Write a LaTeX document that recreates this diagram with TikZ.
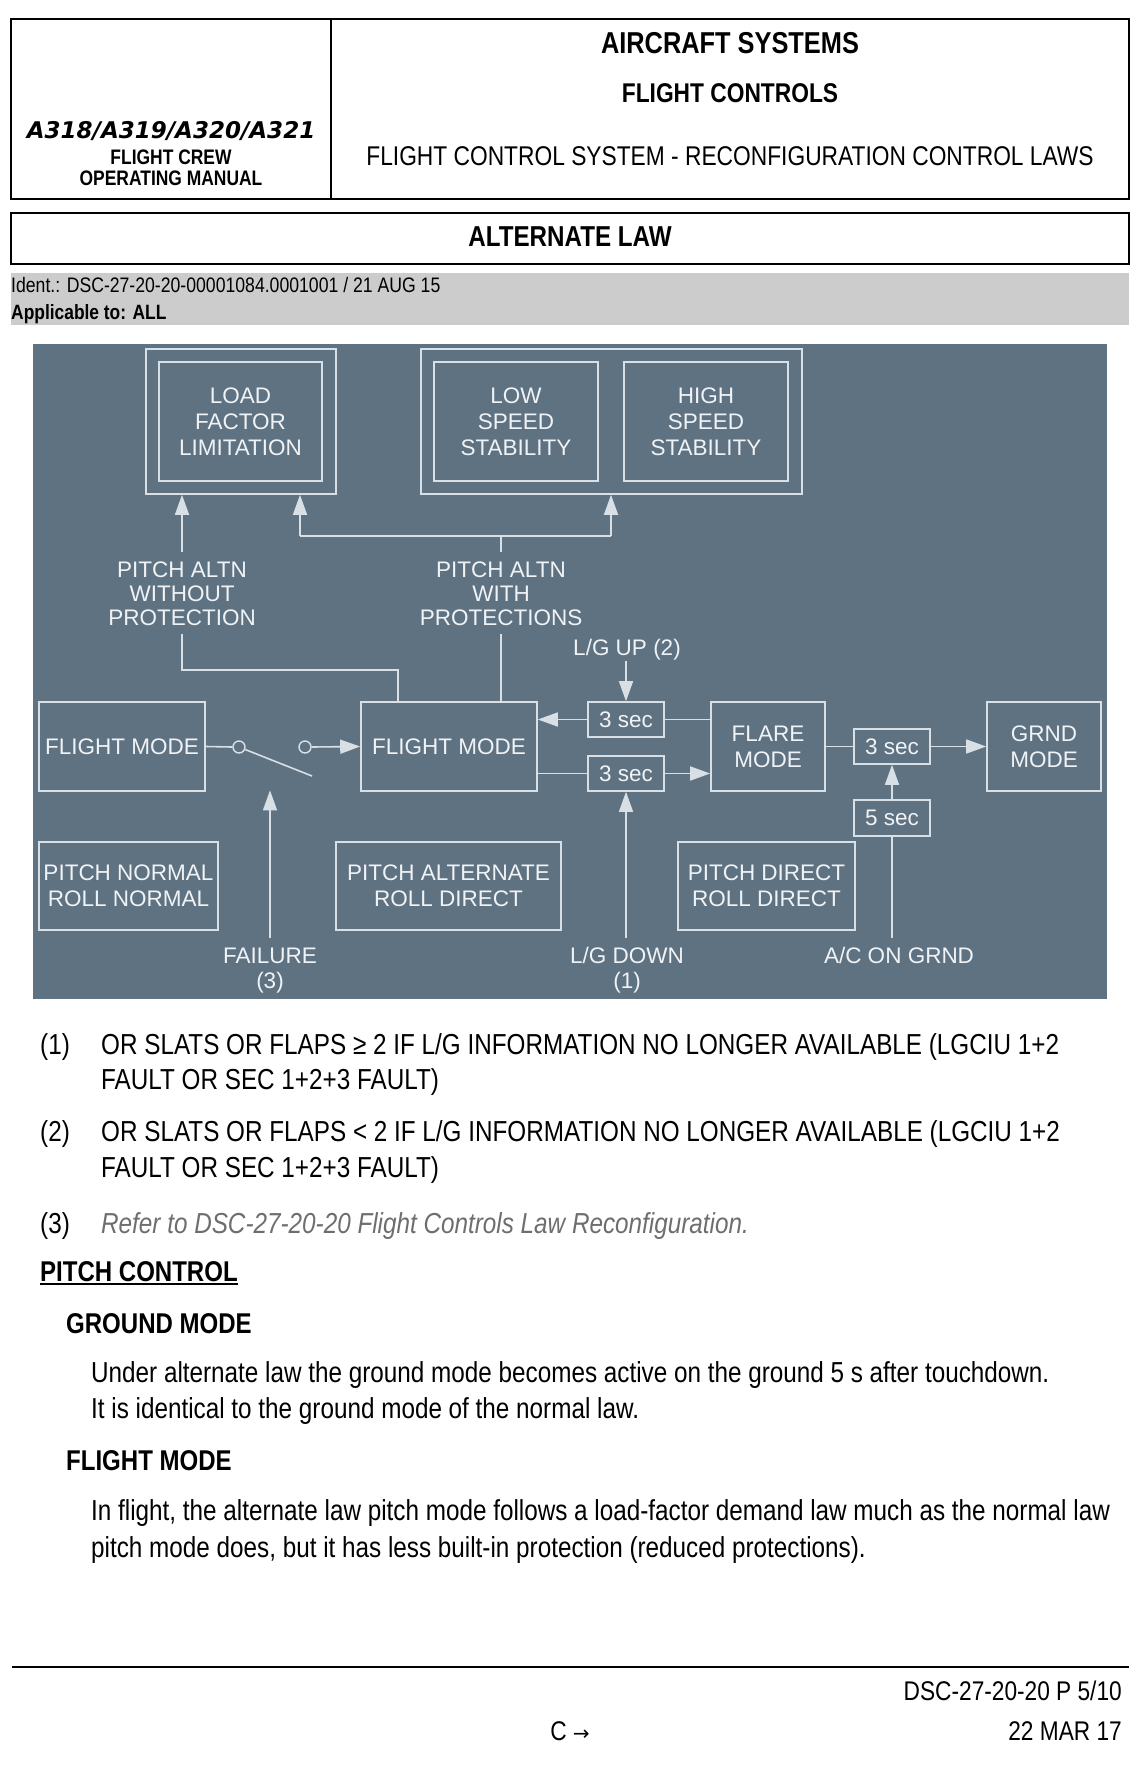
\documentclass[tikz,border=0pt]{standalone}
\usepackage{fontspec}
\setmainfont{Liberation Sans}
\newfontfamily\dejavu{DejaVu Sans}
\newfontfamily\nar[FakeStretch=0.84]{Liberation Sans}
\newfontfamily\condfont[FakeStretch=0.83]{Liberation Sans}
\usetikzlibrary{arrows.meta}
\definecolor{diagbg}{HTML}{5F7282}
\definecolor{dline}{HTML}{D8DFE5}
\definecolor{dtext}{HTML}{F0F3F6}
\definecolor{band}{HTML}{CCCCCC}
\definecolor{refgray}{HTML}{6E6E6E}
\newcommand\setfs[2]{\fontsize{#1}{#2}\selectfont}
\begin{document}
\begin{tikzpicture}[x=1pt,y=-1pt,
  dbox/.style={draw=dline, line width=1.6pt, inner sep=0pt, align=center, text=dtext, font=\setfs{22.5}{26}},
  dlab/.style={inner sep=0pt, anchor=base, text=dtext, font=\setfs{22.5}{24}},
  dl/.style={draw=dline, line width=1.6pt},
  arr/.style={dl, -{Triangle[length=20pt,width=14pt]}},
  sw/.style={circle, draw=dline, line width=1.4pt, minimum size=12pt, inner sep=0pt},
  hdrbox/.style={draw=black, line width=2.2pt, inner sep=0pt},
  txt/.style={inner sep=0pt, anchor=base west, font=\nar\setfs{28.9}{34}},
  btxt/.style={txt, font=\nar\setfs{28.6}{34}\bfseries}
]
\useasboundingbox (0,0) rectangle (1140,1766);
\fill[white] (0,0) rectangle (1140,1766);

% ---------- header ----------
\node[hdrbox, minimum width=1118pt, minimum height=180pt] (hdr) at (570,109) {};
\draw[line width=2.2pt] (331,19) -- (331,199);
\node[inner sep=0pt, anchor=base, font=\nar\setfs{30.2}{34}\bfseries] (t1) at (730,54) {AIRCRAFT SYSTEMS};
\node[inner sep=0pt, anchor=base, font=\nar\setfs{27.1}{32}\bfseries] (t2) at (730,103) {FLIGHT CONTROLS};
\node[inner sep=0pt, anchor=base, font=\nar\setfs{27.1}{32}] (t3) at (730,165) {FLIGHT CONTROL SYSTEM - RECONFIGURATION CONTROL LAWS};
\node[inner sep=0pt, anchor=base, font=\dejavu\setfs{23}{28}\bfseries\itshape] (ac) at (171,139) {A318/A319/A320/A321};
\node[inner sep=0pt, anchor=base, font=\condfont\setfs{21}{25}\bfseries] (fc) at (171,164.5) {FLIGHT CREW};
\node[inner sep=0pt, anchor=base, font=\condfont\setfs{21}{25}\bfseries] (om) at (171,185.5) {OPERATING MANUAL};

\node[hdrbox, minimum width=1118pt, minimum height=51pt] (alt) at (570,238.5) {};
\node[inner sep=0pt, anchor=base, font=\nar\setfs{28.8}{32}\bfseries] (altt) at (570,246) {ALTERNATE LAW};

\fill[band] (11,273) rectangle (1129,325);
\node[inner sep=0pt, anchor=base west, font=\nar\setfs{21}{24}] (ident) at (11,292.5) {Ident.: DSC-27-20-20-00001084.0001001 / 21 AUG 15};
\node[inner sep=0pt, anchor=base west, font=\nar\setfs{20.7}{24}\bfseries] (appl) at (11,319.5) {Applicable to: ALL};

% ---------- diagram ----------
\fill[diagbg] (33,344) rectangle (1107,999);

\node[dbox, minimum width=190pt, minimum height=145pt] (lfOuter) at (241,421.5) {};
\node[dbox, minimum width=163pt, minimum height=119pt] (lfInner) at (240.5,421.5) {LOAD\\FACTOR\\LIMITATION};
\node[dbox, minimum width=381pt, minimum height=145pt] (grpOuter) at (611.5,421.5) {};
\node[dbox, minimum width=164pt, minimum height=119pt] (low) at (516,421.5) {LOW\\SPEED\\STABILITY};
\node[dbox, minimum width=164pt, minimum height=119pt] (high) at (706,421.5) {HIGH\\SPEED\\STABILITY};

\node[dlab] (pawoA) at (182,577) {PITCH ALTN};
\node[dlab] (pawoB) at (182,601) {WITHOUT};
\node[dlab] (pawoC) at (182,625) {PROTECTION};
\node[dlab] (pawiA) at (501,577) {PITCH ALTN};
\node[dlab] (pawiB) at (501,601) {WITH};
\node[dlab] (pawiC) at (501,625) {PROTECTIONS};
\node[dlab] (lgu) at (627,655) {L/G UP (2)};

\node[dbox, minimum width=166pt, minimum height=89pt] (fmL) at (122,746.5) {FLIGHT MODE};
\node[dbox, minimum width=176pt, minimum height=89pt] (fmC) at (449,746.5) {FLIGHT MODE};
\node[dbox, minimum width=76pt, minimum height=35pt] (s3a) at (626,719.5) {3 sec};
\node[dbox, minimum width=76pt, minimum height=35pt] (s3b) at (626,773.5) {3 sec};
\node[dbox, minimum width=114pt, minimum height=89pt] (flare) at (768,746.5) {FLARE\\MODE};
\node[dbox, minimum width=76pt, minimum height=35pt] (s3c) at (892,746.5) {3 sec};
\node[dbox, minimum width=114pt, minimum height=89pt] (grnd) at (1044,746.5) {GRND\\MODE};
\node[dbox, minimum width=76pt, minimum height=36pt] (s5) at (892,818) {5 sec};

\node[sw] (c1) at (239,747) {};
\node[sw] (c2) at (305,747) {};
\coordinate (lever) at (312,776);

\node[dbox, minimum width=179pt, minimum height=88pt] (pn) at (128.5,886) {PITCH NORMAL\\ROLL NORMAL};
\node[dbox, minimum width=225pt, minimum height=88pt] (pa) at (448.5,886) {PITCH ALTERNATE\\ROLL DIRECT};
\node[dbox, minimum width=177pt, minimum height=88pt] (pd) at (766.5,886) {PITCH DIRECT\\ROLL DIRECT};

\node[dlab] (fail) at (270,963) {FAILURE};
\node[dlab] (failn) at (270,988) {(3)};
\node[dlab] (lgd) at (627,963) {L/G DOWN};
\node[dlab] (lgdn) at (627,988) {(1)};
\node[dlab] (acg) at (899,963) {A/C ON GRND};

% connectors top
\coordinate (ja) at (300,536);
\coordinate (jb) at (611,536);
\draw[arr] ([yshift=9pt]pawoA.north) -- (pawoA.north |- lfOuter.south);
\draw[dl] (ja) -- (jb);
\draw[dl] ([yshift=9pt]pawiA.north) -- (pawiA.north |- ja);
\draw[arr] (ja) -- (ja |- lfOuter.south);
\draw[arr] (jb) -- (jb |- grpOuter.south);
\coordinate (j1) at (398,670);
\draw[dl] ([yshift=-9pt]pawoC.base) |- (j1) -- (j1 |- fmC.north);
\draw[dl] ([yshift=-9pt]pawiC.base) -- (pawiC.base |- fmC.north);
\draw[arr] ([yshift=-1pt]lgu.south -| s3a.north) -- (s3a.north);

% switch
\draw[dl] (fmL.east) -- (c1.west);
\draw[dl] (c1.-22) -- (lever);
\draw[arr] (c2.east) -- (fmC.west);
\draw[arr] ([yshift=9pt]fail.north) -- ++(0,-148);

% middle row
\draw[arr] (s3a.west) -- (s3a.west -| fmC.east);
\draw[dl] (s3a.east) -- (s3a.east -| flare.west);
\draw[dl] (s3b.west -| fmC.east) -- (s3b.west);
\draw[arr] (s3b.east) -- (s3b.east -| flare.west);
\draw[dl] (flare.east) -- (s3c.west);
\draw[arr] (s3c.east) -- (grnd.west);
\draw[arr] (s5.north) -- (s3c.south);
\draw[dl] ([yshift=9pt]acg.north -| s5.south) -- (s5.south);
\draw[arr] ([yshift=9pt]lgd.north -| s3b.south) -- (s3b.south);

% ---------- notes ----------
\node[txt] (n1) at (40,1054) {(1)};
\node[txt] (n1a) at (101,1054) {OR SLATS OR FLAPS ≥ 2 IF L/G INFORMATION NO LONGER AVAILABLE (LGCIU 1+2};
\node[txt] (n1b) at (101,1089) {FAULT OR SEC 1+2+3 FAULT)};
\node[txt] (n2) at (40,1141) {(2)};
\node[txt] (n2a) at (101,1141) {OR SLATS OR FLAPS < 2 IF L/G INFORMATION NO LONGER AVAILABLE (LGCIU 1+2};
\node[txt] (n2b) at (101,1177) {FAULT OR SEC 1+2+3 FAULT)};
\node[txt] (n3) at (40,1233) {(3)};
\node[txt, text=refgray, font=\nar\setfs{28.9}{34}\itshape] (n3a) at (101,1233) {Refer to DSC-27-20-20 Flight Controls Law Reconfiguration.};

\node[btxt] (pc) at (40,1281) {PITCH CONTROL};
\draw[line width=1.5pt] ([yshift=-3pt]pc.base west) -- ([yshift=-3pt]pc.base east);
\node[btxt] (gm) at (66,1333) {GROUND MODE};
\node[txt] (gm1) at (91,1382) {Under alternate law the ground mode becomes active on the ground 5 s after touchdown.};
\node[txt] (gm2) at (91,1418) {It is identical to the ground mode of the normal law.};
\node[btxt] (fm) at (66,1470) {FLIGHT MODE};
\node[txt] (fm1) at (91,1520) {In flight, the alternate law pitch mode follows a load-factor demand law much as the normal law};
\node[txt] (fm2) at (91,1557) {pitch mode does, but it has less built-in protection (reduced protections).};

% ---------- footer ----------
\draw[line width=2pt] (12,1667) -- (1129,1667);
\node[inner sep=0pt, anchor=base east, font=\nar\setfs{27}{32}] (pg) at (1122,1700) {DSC-27-20-20 P 5/10};
\node[inner sep=0pt, anchor=base east, font=\nar\setfs{27}{32}] (dt) at (1122,1740) {22 MAR 17};
\node[inner sep=0pt, anchor=base, font=\nar\setfs{27}{32}] (cc) at (570,1740) {C {\dejavu\setfs{20}{24}→}};
\end{tikzpicture}
\end{document}
